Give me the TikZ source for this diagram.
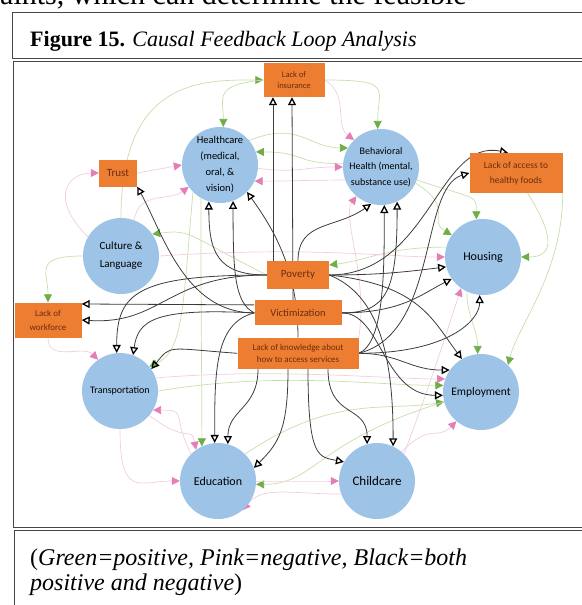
\documentclass[tikz,border=0pt]{standalone}
\usepackage{fontspec}
\setmainfont{Liberation Serif}
\newfontfamily\diagfont{Carlito}
\usetikzlibrary{arrows.meta,positioning,shapes.geometric}
\pgfdeclarelayer{links}
\pgfsetlayers{links,main}
\definecolor{circblue}{RGB}{157,195,230}
\definecolor{boxorange}{RGB}{237,125,49}
\definecolor{boxtext}{RGB}{105,45,15}
\definecolor{posgreen}{RGB}{112,173,71}
\definecolor{posline}{RGB}{200,222,170}
\definecolor{negpink}{RGB}{229,125,182}
\definecolor{negline}{RGB}{242,205,225}
\definecolor{bothline}{RGB}{60,60,60}
\definecolor{framegray}{RGB}{70,70,70}

\begin{document}
\begin{tikzpicture} [
		x=1pt, y=-1pt,
		circ/.style  = { circle, fill=circblue, minimum size=76pt, inner sep=0pt,
			align=center, text=black },
		box/.style   = { rectangle, fill=boxorange, inner sep=0pt, align=center,
			text=boxtext },
		bothlink/.style  = { draw=bothline, line width=0.8pt,
			-{Triangle[open, length=8pt, width=8pt, line width=1.3pt, color=black]} },
		poslink/.style   = { draw=posline, line width=0.7pt,
			-{Triangle[length=8pt, width=8pt, color=posgreen]} },
		neglink/.style   = { draw=negline, line width=0.7pt,
			-{Triangle[length=8pt, width=8pt, color=negpink]} },
		frame/.style = { draw=framegray, line width=1pt },
	]
	\useasboundingbox (0,0) rectangle (581,605);
	% page text and frames
	\node [anchor=base west, inner sep=0pt, font=\fontsize{30}{32}\selectfont] (cut) at (0,5) {aints, which can determine the feasible};
	\draw [frame] (12,12) rectangle (595,58);
	\draw [frame] (13,61) rectangle (595,527);
	\draw [frame] (14,615) -- (14,530) -- (595,530);
	\node [anchor=base west, inner sep=0pt, font=\fontsize{22}{24}\selectfont] (title) at (30,46) {\textbf{Figure 15.} \textit{Causal Feedback Loop Analysis}};
	\node [anchor=base west, inner sep=0pt, font=\fontsize{24}{26}\selectfont] (legend1) at (30,565) {(\textit{Green=positive, Pink=negative, Black=both}};
	\node [anchor=base west, inner sep=0pt, font=\fontsize{24}{26}\selectfont] (legend2) at (30,590) {\textit{positive and negative})};
	% factors
	\begin{scope} [font=\diagfont]
		\node [circ, font=\diagfont\fontsize{10.5}{16}\selectfont] (hc) at (220,165) {Healthcare\\(medical,\\oral, \&\\vision)};
		\node [circ, font=\diagfont\fontsize{10}{15.5}\selectfont] (bh) at (381,167) {Behavioral\\Health (mental,\\substance use)};
		\node [circ, font=\diagfont\fontsize{11}{18}\selectfont] (cult) at (121,256) {Culture \&\\Language};
		\node [circ, font=\diagfont\fontsize{12}{14}\selectfont] (hous) at (483,257) {Housing};
		\node [circ, font=\diagfont\fontsize{10}{12}\selectfont] (trans) at (120,391) {Transportation};
		\node [circ, font=\diagfont\fontsize{11.5}{14}\selectfont] (emp) at (481,392) {Employment};
		\node [circ, font=\diagfont\fontsize{12}{14}\selectfont] (edu) at (218,481) {Education};
		\node [circ, font=\diagfont\fontsize{13}{15}\selectfont] (child) at (377,481) {Childcare};
		\node [box, minimum width=61pt, minimum height=34pt, font=\diagfont\fontsize{8.5}{11}\selectfont] (ins) at (294,80) {Lack of\\insurance};
		\node [box, minimum width=38pt, minimum height=27pt, font=\diagfont\fontsize{11}{13}\selectfont] (trust) at (118,173) {Trust};
		\node [box, minimum width=93pt, minimum height=40pt, font=\diagfont\fontsize{9.5}{15}\selectfont] (food) at (516,173) {Lack of access to\\healthy foods};
		\node [box, minimum width=62pt, minimum height=28pt, font=\diagfont\fontsize{11}{13}\selectfont] (pov) at (298,275) {Poverty};
		\node [box, minimum width=87pt, minimum height=25pt, font=\diagfont\fontsize{10.5}{13}\selectfont, below=11pt of pov] (vict) {Victimization};
		\node [box, minimum width=121pt, minimum height=31pt, font=\diagfont\fontsize{9}{12}\selectfont, below=12pt of vict] (know) {Lack of knowledge about\\how to access services};
		\node [box, minimum width=67pt, minimum height=35pt, font=\diagfont\fontsize{9}{14}\selectfont] (work) at (48,320) {Lack of\\workforce};
	\end{scope}
	% positive links
	\begin{pgfonlayer}{links}
	\begin{scope} [every path/.style=poslink]
		\path (cult.north) .. controls +(0,-140) and +(-60,0) .. (ins.west);
		\path (ins.west) .. controls +(-50,5) and +(0,-30) .. (hc.85);
		\path (ins.east) .. controls +(70,0) and +(0,-40) .. (bh.95);
		\path (hc.40) .. controls +(50,-20) and +(-40,0) .. (bh.150);
		\path (bh.175) .. controls +(-50,0) and +(50,0) .. (hc.20);
		\path (pov.west) .. controls +(-80,-40) and +(40,-5) .. (cult.35);
		\path (cult.west) .. controls +(-50,0) and +(0,-30) .. (work.north);
		\path (bh.-20) .. controls +(60,20) and +(0,-25) .. (hous.100);
		\path (bh.-25) .. controls +(40,25) and +(-25,-15) .. (hous.145);
		\path (food.-60) .. controls +(25,40) and +(35,0) .. (hous.east);
		\path (hous.165) .. controls +(-60,0) and +(40,-5) .. ([yshift=10pt]pov.east);
		\path (food.south east) .. controls +(0,80) and +(10,-40) .. (emp.45);
		\path (hous.-115) .. controls +(0,25) and +(0,-25) .. (emp.95);
		\path (trans.east) .. controls +(120,-20) and +(-70,0) .. (emp.170);
		\path (edu.45) .. controls +(90,-60) and +(-60,10) .. (emp.195);
		\path (hc.-135) .. controls +(-10,110) and +(35,-15) .. (trans.40);
		\path (hc.-120) .. controls +(0,120) and +(0,-70) .. (edu.115);
		\path (emp.-165) .. controls +(-130,40) and +(60,0) .. (edu.-5);
	\end{scope}
	% negative links
	\begin{scope} [every path/.style=neglink]
		\path (cult.150) .. controls +(-40,-40) and +(-30,0) .. (trust.west);
		\path (trust.east) -- (hc.west);
		\path (ins.east) .. controls +(25,15) and +(-20,-15) .. (bh.135);
		\path (hc.-5) .. controls +(40,5) and +(-40,0) .. (bh.west);
		\path (bh.-160) .. controls +(-40,0) and +(40,0) .. (hc.-25);
		\path (cult.70) .. controls +(5,-30) and +(-20,15) .. (hc.-145);
		\path (know.north east) .. controls +(10,-60) and +(-15,20) .. (bh.-130);
		\path (cult.east) .. controls +(150,-10) and +(-60,0) .. (hous.west);
		\path (child.north east) .. controls +(30,-80) and +(-10,30) .. (hous.-125);
		\path (trans.20) .. controls +(120,-10) and +(-60,0) .. (emp.160);
		\path (child.50) .. controls +(30,-30) and +(-20,20) .. (emp.-130);
		\path (work.south) .. controls +(0,25) and +(-15,-15) .. (trans.125);
		\path (edu.135) .. controls +(-20,-40) and +(35,0) .. (trans.-30);
		\path (trans.-40) .. controls +(40,30) and +(-5,-25) .. (edu.125);
		\path (trans.south) .. controls +(0,70) and +(-40,0) .. (edu.west);
		\path (child.-160) .. controls +(-50,0) and +(20,-25) .. (edu.-50);
		\path (edu.east) .. controls +(30,0) and +(-30,0) .. (child.west);
	\end{scope}
	% links that work both ways
	\begin{scope} [every path/.style=bothlink]
		\path ([xshift=-25pt]pov.north) -- ([xshift=-21pt]ins.south);
		\path ([xshift=-5pt]vict.north) -- ([xshift=-2pt]ins.south);
		\path (pov.west) .. controls +(-50,0) and +(0,50) .. (hc.-107);
		\path (vict.west) .. controls +(-20,-10) and +(0,70) .. (hc.-70);
		\path (know.north) .. controls +(0,-70) and +(25,35) .. (hc.-45);
		\path (vict.west) .. controls +(-70,0) and +(25,45) .. (trust.south east);
		\path (pov.north) .. controls +(0,-40) and +(-35,25) .. (bh.-105);
		\path (know.east) .. controls +(25,-10) and +(0,70) .. (bh.-85);
		\path (vict.east) .. controls +(45,0) and +(0,90) .. (bh.-65);
		\path (pov.east) .. controls +(100,0) and +(-70,-15) .. ([xshift=-8pt]food.north);
		\path (know.east) .. controls +(80,-20) and +(-50,15) .. (food.west);
		\path (pov.east) .. controls +(50,0) and +(-40,5) .. (hous.195);
		\path (vict.east) .. controls +(60,0) and +(-30,15) .. (hous.215);
		\path (know.east) .. controls +(90,0) and +(0,25) .. (hous.-95);
		\path (pov.east) .. controls +(90,10) and +(-30,-40) .. (emp.120);
		\path (know.east) .. controls +(40,0) and +(-40,0) .. (emp.145);
		\path (vict.east) .. controls +(40,0) and +(-60,0) .. (emp.185);
		\path (pov.east) .. controls +(50,20) and +(0,-90) .. (child.65);
		\path ([xshift=30pt]know.south) .. controls +(0,50) and +(0,-40) .. (child.105);
		\path ([xshift=10pt]know.south) .. controls +(0,90) and +(-25,-5) .. (child.150);
		\path (vict.west) .. controls +(-40,10) and +(0,-70) .. (edu.95);
		\path ([xshift=-40pt]know.south) .. controls +(0,40) and +(0,-35) .. (edu.75);
		\path ([xshift=-10pt]know.south) .. controls +(0,60) and +(25,-25) .. (edu.20);
		\path (pov.west) .. controls +(-130,0) and +(0,-60) .. (trans.95);
		\path (vict.west) .. controls +(-100,-5) and +(5,-35) .. (trans.70);
		\path (know.west) .. controls +(-70,-5) and +(20,-25) .. (trans.35);
		\path ([yshift=8pt]vict.west) -- ([yshift=16pt]work.east);
		\path (pov.west) .. controls +(-100,0) and +(80,5) .. (work.east);
	\end{scope}
	\end{pgfonlayer}
\end{tikzpicture}
\end{document}
